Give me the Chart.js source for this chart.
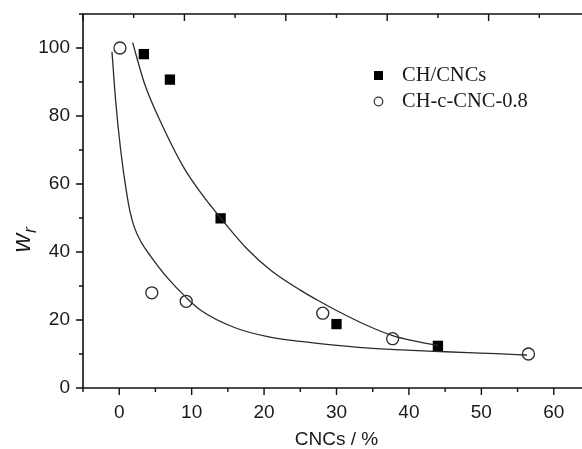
<!DOCTYPE html>
<html><head><meta charset="utf-8">
<script src="https://cdn.jsdelivr.net/npm/chart.js@4/dist/chart.umd.min.js"></script>
<style>
html,body{margin:0;padding:0;overflow:hidden;background:#fff;width:582px;height:449px}
#wrap{width:600px;height:449px;position:relative}
</style></head>
<body><div id="wrap"><canvas id="c" width="600" height="449"></canvas></div>
<script>
// ---- data ----
const seriesLabels = ['CH/CNCs', 'CH-c-CNC-0.8'];
const squareX = [3.4, 7.0, 14.0, 30.0, 44.0];
const squareY = [98.2, 90.7, 49.9, 18.8, 12.4];
const circleX = [0.1, 4.5, 9.25, 28.1, 37.75, 56.5];
const circleY = [100.0, 28.0, 25.5, 22.0, 14.5, 10.0];
const fitUpperX = [1.85, 3.5, 6.0, 9.0, 11.3, 14.0, 17.7, 21.0, 25.0, 27.4, 30.0, 34.0, 37.75, 41.0, 44.0];
const fitUpperY = [101.6, 89.5, 77.0, 64.5, 57.3, 50.0, 40.8, 34.5, 28.8, 25.8, 22.8, 18.6, 15.4, 13.7, 12.5];
const fitLowerX = [-1.0, -0.5, 0.2, 1.05, 1.5, 2.07, 3.0, 4.4, 6.7, 9.3, 11.3, 15.9, 20.5, 25.0, 29.7, 34.0, 38.9, 43.5, 48.1, 52.0, 56.3];
const fitLowerY = [98.9, 84.7, 70.0, 57.0, 51.8, 47.4, 43.0, 38.6, 32.3, 26.5, 22.8, 17.8, 15.1, 13.7, 12.6, 11.8, 11.2, 10.8, 10.4, 10.1, 9.7];
const xTicks = [0, 10, 20, 30, 40, 50, 60];
const xMinor = [-5, 5, 15, 25, 35, 45, 55, 65];
const yTicks = [0, 20, 40, 60, 80, 100];
const yMinor = [10, 30, 50, 70, 90, 110];
const topTicks = [0, 1, 2, 3, 4, 5];
const topMinor = [0.5, 1.5, 2.5, 3.5, 4.5];
const xTitle = 'CNCs / %';
const yTitleMain = 'w';
const yTitleSub = 'r';

const pts = (xs, ys) => xs.map((x, i) => ({x, y: ys[i]}));

const axesPlugin = {
  id: 'axesPlugin',
  afterDatasetsDraw(chart) {
    const ctx = chart.ctx, a = chart.chartArea;
    const sx = chart.scales.x, sy = chart.scales.y, st = chart.scales.x2;
    ctx.save();
    ctx.strokeStyle = '#111';
    ctx.lineWidth = 1.6;
    ctx.beginPath();
    ctx.moveTo(a.left, a.top); ctx.lineTo(a.left, a.bottom);
    ctx.moveTo(a.left - 0.8, a.bottom); ctx.lineTo(a.right, a.bottom);
    ctx.moveTo(a.left - 0.8, a.top); ctx.lineTo(a.right, a.top);
    ctx.moveTo(a.right, a.top); ctx.lineTo(a.right, a.bottom);
    ctx.stroke();
    ctx.lineWidth = 1.4;
    ctx.beginPath();
    xTicks.forEach(v => { const p = sx.getPixelForValue(v); ctx.moveTo(p, a.bottom); ctx.lineTo(p, a.bottom + 7); });
    xMinor.forEach(v => { const p = sx.getPixelForValue(v); ctx.moveTo(p, a.bottom); ctx.lineTo(p, a.bottom + 4); });
    yTicks.forEach(v => { const p = sy.getPixelForValue(v); ctx.moveTo(a.left, p); ctx.lineTo(a.left - 7, p); });
    yMinor.forEach(v => { const p = sy.getPixelForValue(v); ctx.moveTo(a.left, p); ctx.lineTo(a.left - 4, p); });
    topTicks.forEach(v => { const p = st.getPixelForValue(v); ctx.moveTo(p, a.top); ctx.lineTo(p, a.top + 7); });
    topMinor.forEach(v => { const p = st.getPixelForValue(v); ctx.moveTo(p, a.top); ctx.lineTo(p, a.top + 4); });
    ctx.stroke();

    // axis titles
    ctx.fillStyle = '#1a1a1a';
    ctx.font = '19px "Liberation Sans", Arial, sans-serif';
    ctx.textAlign = 'center';
    ctx.textBaseline = 'middle';
    ctx.fillText(xTitle, (a.left + a.right) / 2, 440);
    ctx.save();
    ctx.translate(22, 243);
    ctx.rotate(-Math.PI / 2);
    ctx.font = 'italic 26px "Liberation Sans", Arial, sans-serif';
    ctx.textAlign = 'center';
    ctx.textBaseline = 'alphabetic';
    ctx.fillText(yTitleMain, 0, 8);
    ctx.font = 'italic 18px "Liberation Sans", Arial, sans-serif';
    ctx.textAlign = 'left';
    ctx.fillText(yTitleSub, 10, 14);
    ctx.restore();

    // legend
    ctx.font = '20.5px "Liberation Serif", "Times New Roman", serif';
    ctx.textAlign = 'left';
    ctx.textBaseline = 'middle';
    ctx.fillStyle = '#000';
    ctx.fillRect(374, 71, 9, 9);
    ctx.fillStyle = '#1a1a1a';
    ctx.fillText(seriesLabels[0], 402, 76);
    ctx.beginPath();
    ctx.arc(378.5, 101.5, 4.3, 0, Math.PI * 2);
    ctx.fillStyle = '#fff'; ctx.fill();
    ctx.lineWidth = 1.2; ctx.strokeStyle = '#333'; ctx.stroke();
    ctx.fillStyle = '#1a1a1a';
    ctx.fillText(seriesLabels[1], 402, 102);
    ctx.restore();
  }
};

const noPad = s => { s.paddingTop = 0; s.paddingBottom = 0; s.paddingLeft = 0; s.paddingRight = 0; };

new Chart(document.getElementById('c'), {
  type: 'scatter',
  data: {
    datasets: [
      { label: 'fit1', data: pts(fitUpperX, fitUpperY), showLine: true, pointRadius: 0,
        borderColor: '#2a2a2a', borderWidth: 1.3, cubicInterpolationMode: 'monotone', fill: false },
      { label: 'fit2', data: pts(fitLowerX, fitLowerY), showLine: true, pointRadius: 0,
        borderColor: '#2a2a2a', borderWidth: 1.3, cubicInterpolationMode: 'monotone', fill: false },
      { label: seriesLabels[0], data: pts(squareX, squareY), pointStyle: 'rect', pointRadius: 7.3,
        backgroundColor: '#000', borderColor: '#000', borderWidth: 0 },
      { label: seriesLabels[1], data: pts(circleX, circleY), pointStyle: 'circle', pointRadius: 6,
        backgroundColor: '#fff', borderColor: '#2a2a2a', borderWidth: 1.3 }
    ]
  },
  options: {
    responsive: false,
    animation: false,
    events: [],
    layout: { padding: { left: 0, right: 10, top: 0, bottom: 0 } },
    plugins: { legend: { display: false }, tooltip: { enabled: false } },
    scales: {
      x: {
        type: 'linear', position: 'bottom', min: -5, max: 65,
        grid: { display: false, drawTicks: false }, border: { display: false },
        afterBuildTicks: s => { s.ticks = xTicks.map(v => ({value: v})); },
        afterFit: s => { s.height = 61; noPad(s); },
        ticks: { color: '#1a1a1a', padding: 13, maxRotation: 0, font: { family: '"Liberation Sans", Arial, sans-serif', size: 19 } }
      },
      x2: {
        type: 'linear', position: 'top', min: 0, max: 5,
        grid: { display: false, drawTicks: false }, border: { display: false },
        ticks: { display: false },
        afterFit: s => { s.height = 14; noPad(s); }
      },
      y: {
        type: 'linear', position: 'left', min: 0, max: 110,
        grid: { display: false, drawTicks: false }, border: { display: false },
        afterBuildTicks: s => { s.ticks = yTicks.map(v => ({value: v})); },
        afterFit: s => { s.width = 83; noPad(s); },
        ticks: { color: '#1a1a1a', padding: 13, font: { family: '"Liberation Sans", Arial, sans-serif', size: 19 } }
      }
    }
  },
  plugins: [axesPlugin]
});
</script>
</body></html>
